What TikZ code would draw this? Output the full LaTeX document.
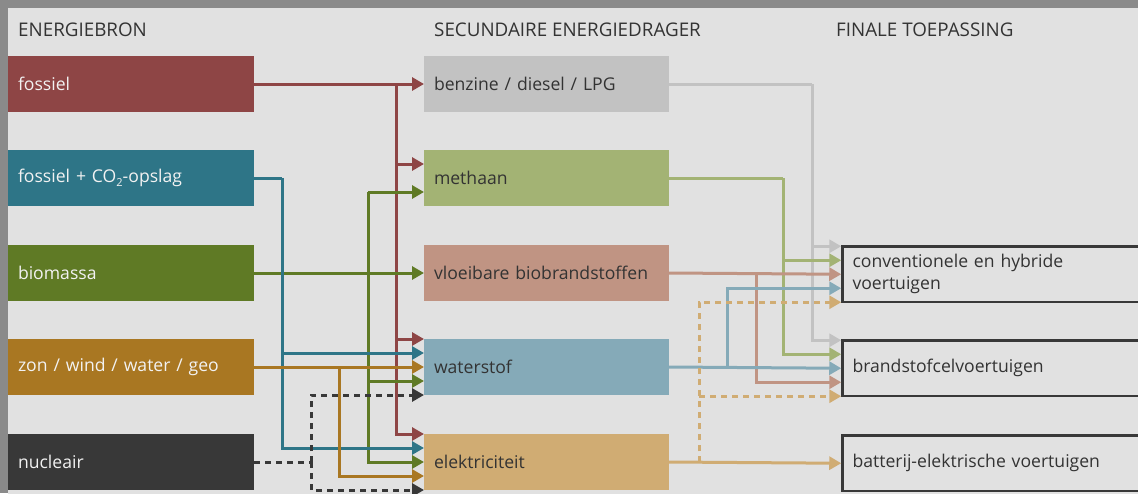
\documentclass[tikz,border=0pt]{standalone}
\usepackage{fontspec}
\setmainfont{Open Sans}
\usetikzlibrary{arrows.meta}
\definecolor{frame}{HTML}{8A8A8A}
\definecolor{bg}{HTML}{E1E1E1}
\definecolor{cfos}{HTML}{8E4545}
\definecolor{cccs}{HTML}{2E7587}
\definecolor{cbio}{HTML}{5F7A25}
\definecolor{czon}{HTML}{A97722}
\definecolor{cnuc}{HTML}{383838}
\definecolor{cben}{HTML}{C2C2C2}
\definecolor{cmet}{HTML}{A3B374}
\definecolor{cvlo}{HTML}{C09483}
\definecolor{cwat}{HTML}{85AAB8}
\definecolor{cele}{HTML}{D0AC73}
\definecolor{ctxt}{HTML}{333333}
\tikzset{
  srcbox/.style={rectangle, anchor=north west, fill=#1, text=white!95!black, minimum width=246pt, minimum height=56pt, text width=226pt, inner xsep=10pt, inner ysep=0pt, outer sep=0pt, align=left},
  midbox/.style={rectangle, anchor=north west, fill=#1, text=ctxt, minimum width=245pt, minimum height=56pt, text width=225pt, inner xsep=10pt, inner ysep=0pt, outer sep=0pt, align=left},
  endbox/.style={rectangle, anchor=north west, draw=cnuc, line width=2.5pt, text=ctxt, minimum width=300pt, minimum height=55.5pt, text width=280pt, inner xsep=9pt, inner ysep=0pt, align=left},
  heading/.style={anchor=base west, text=ctxt, inner sep=0pt, font=\fontsize{18.8}{22}\selectfont},
  flow/.style={draw=#1, line width=3pt, -{Triangle[length=12pt,width=13pt]}},
  flowplain/.style={draw=#1, line width=3pt},
  dflow/.style={draw=#1, line width=3pt, dash pattern=on 6pt off 5pt, -{Triangle[length=12pt,width=13pt]}},
  dflowplain/.style={draw=#1, line width=3pt, dash pattern=on 6pt off 5pt}
}
\begin{document}
\begin{tikzpicture}[x=1pt,y=-1pt,font=\fontsize{17.6}{22}\selectfont]
\useasboundingbox (0,0) rectangle (1138,493);
\fill[frame] (0,0) rectangle (1138,493);
\fill[bg] (8,8) rectangle (1140,495);

% headings
\node[heading] (h1) at (18,36) {ENERGIEBRON};
\node[heading] (h2) at (434,36) {SECUNDAIRE ENERGIEDRAGER};
\node[heading] (h3) at (836,36) {FINALE TOEPASSING};

% sources
\node[srcbox=cfos] (fos) at (8,56) {fossiel};
\node[srcbox=cccs] (ccs) at (8,150) {fossiel + CO\raisebox{-0.45ex}{\fontsize{11}{11}\selectfont 2}-opslag};
\node[srcbox=cbio] (bio) at (8,245) {biomassa};
\node[srcbox=czon] (zon) at (8,339) {zon / wind / water / geo};
\node[srcbox=cnuc] (nuc) at (8,434) {nucleair};

% carriers
\node[midbox=cben] (ben) at (424,56) {benzine / diesel / LPG};
\node[midbox=cmet] (met) at (424,150) {methaan};
\node[midbox=cvlo] (vlo) at (424,245) {vloeibare biobrandstoffen};
\node[midbox=cwat] (wat) at (424,339) {waterstof};
\node[midbox=cele] (ele) at (424,434) {elektriciteit};

% applications
\node[endbox] (conv) at (841.25,245.25) {conventionele en hybride\\voertuigen};
\node[endbox] (bfc) at (841.25,339.25) {brandstofcelvoertuigen};
\node[endbox] (bat) at (841.25,434.25) {batterij-elektrische voertuigen};

% junction columns
\coordinate (xr) at (396,0);
\coordinate (xg) at (368,0);
\coordinate (xo) at (339,0);
\coordinate (xn) at (311,0);
\coordinate (xt) at (282,0);
\coordinate (xgr) at (812,0);
\coordinate (xm) at (783,0);
\coordinate (xp) at (756,0);
\coordinate (xb) at (727,0);
\coordinate (xe) at (699,0);

% fossiel (red)
\draw[flow=cfos] (fos.east) -- (ben.west);
\draw[flow=cfos] (fos.east -| xr) |- ([yshift=14pt]met.west);
\draw[flow=cfos] (fos.east -| xr) |- ([yshift=28pt]wat.west);
\draw[flow=cfos] (fos.east -| xr) |- ([yshift=28pt]ele.west);

% biomassa (green)
\draw[flow=cbio] (bio.east) -- (vlo.west);
\draw[flow=cbio] ([yshift=-14pt]met.west -| xg) -- ([yshift=-14pt]met.west);
\draw[flow=cbio] ([yshift=-14pt]met.west -| xg) |- ([yshift=-14pt]wat.west);
\draw[flow=cbio] ([yshift=-14pt]met.west -| xg) |- (ele.west);

% fossiel + CO2 (teal)
\draw[flowplain=cccs] (ccs.east) -- (ccs.east -| xt);
\draw[flow=cccs] (ccs.east -| xt) |- ([yshift=14pt]wat.west);
\draw[flow=cccs] (ccs.east -| xt) |- ([yshift=14pt]ele.west);

% zon (ochre)
\draw[flow=czon] (zon.east) -- (wat.west);
\draw[flow=czon] (zon.east -| xo) |- ([yshift=-14pt]ele.west);

% nucleair (dashed)
\draw[dflowplain=cnuc] (nuc.east) -- (nuc.east -| xn);
\draw[dflow=cnuc] (nuc.east -| xn) |- ([yshift=-28pt]wat.west);
\draw[dflow=cnuc] (nuc.east -| xn) |- ([yshift=-28pt]ele.west);

% right side
\draw[flowplain=cben] (ben.east) -- (ben.east -| xgr);
\draw[flow=cben] (ben.east -| xgr) |- ([yshift=28pt]conv.west);
\draw[flow=cben] (ben.east -| xgr) |- ([yshift=28pt]bfc.west);

\draw[flowplain=cmet] (met.east) -- (met.east -| xm);
\draw[flow=cmet] (met.east -| xm) |- ([yshift=14pt]conv.west);
\draw[flow=cmet] (met.east -| xm) |- ([yshift=14pt]bfc.west);

\draw[flow=cvlo] (vlo.east) -- (conv.west);
\draw[flow=cvlo] (vlo.east -| xp) |- ([yshift=-14pt]bfc.west);

\draw[flow=cwat] (wat.east) -- (bfc.west);
\draw[flow=cwat] (wat.east -| xb) |- ([yshift=-14pt]conv.west);

\draw[flow=cele] (ele.east) -- (bat.west);
\draw[dflow=cele] (ele.east -| xe) |- ([yshift=-28pt]conv.west);
\draw[dflow=cele] (ele.east -| xe) |- ([yshift=-28pt]bfc.west);
\end{tikzpicture}
\end{document}
